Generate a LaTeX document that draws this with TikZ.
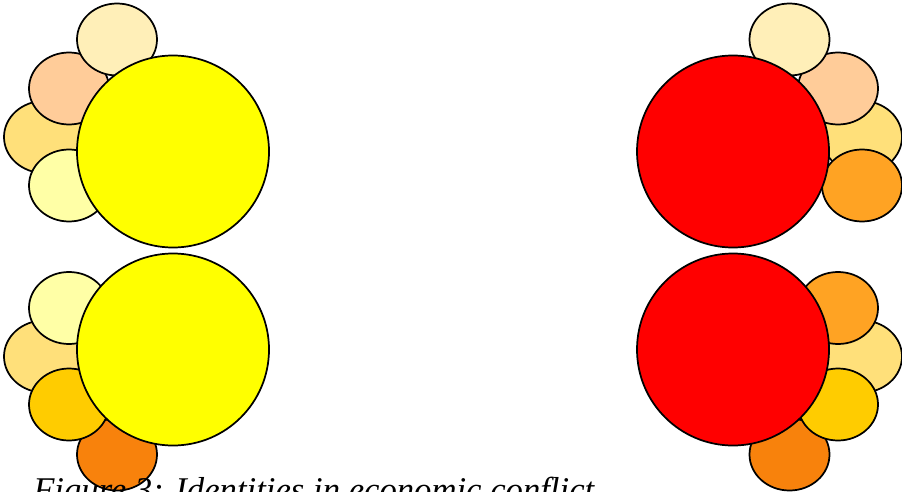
\documentclass[tikz,border=0pt]{standalone}
\usepackage{fontspec}
\setmainfont{Liberation Serif}
\usepackage{tikz}
\usetikzlibrary{shapes.geometric, positioning}
\usepackage{xcolor}

\definecolor{cream}{HTML}{FFEFB8}
\definecolor{peach}{HTML}{FFCC99}
\definecolor{lightorange}{HTML}{FFE07A}
\definecolor{paleyellow}{HTML}{FFFFA6}
\definecolor{goldyellow}{HTML}{FFCC00}
\definecolor{darkorange}{HTML}{F8820C}
\definecolor{midorange}{HTML}{FFA323}
\definecolor{sunyellow}{RGB}{255,255,0}
\definecolor{firered}{RGB}{255,0,0}

\begin{document}
\begin{tikzpicture}[
    x=0.75pt, y=-0.75pt,
    big/.style={circle, draw, line width=1.3pt, minimum size=144pt, inner sep=0pt},
    petal/.style={ellipse, draw, line width=1.3pt, minimum width=60pt, minimum height=54pt, inner sep=0pt}
]
\clip (0,0) rectangle (902,492);

% top left
\node[petal, fill=lightorange] (tl3) at (44,137) {};
\node[petal, fill=paleyellow] (tl4) at (69,185.5) {};
\node[petal, fill=peach] (tl2) at (69,88.5) {};
\node[petal, fill=cream] (tl1) at (117,39.5) {};
\node[big, fill=sunyellow] (tl) at (173,151.5) {};

% bottom left
\node[petal, fill=lightorange] (bl2) at (44,356.5) {};
\node[petal, fill=darkorange] (bl4) at (117,454.5) {};
\node[petal, fill=goldyellow] (bl3) at (69,404.5) {};
\node[petal, fill=paleyellow] (bl1) at (69,308) {};
\node[big, fill=sunyellow] (bl) at (173,349.5) {};

% top right
\node[petal, fill=lightorange] (tr3) at (862,137) {};
\node[petal, fill=midorange] (tr4) at (862,185.5) {};
\node[petal, fill=peach] (tr2) at (838,88.5) {};
\node[petal, fill=cream] (tr1) at (789.5,39.5) {};
\node[big, fill=firered] (tr) at (733,151.5) {};

% bottom right
\node[petal, fill=lightorange] (br2) at (862,356.5) {};
\node[petal, fill=darkorange] (br4) at (789.5,454.5) {};
\node[petal, fill=goldyellow] (br3) at (838,404.5) {};
\node[petal, fill=midorange] (br1) at (838,308) {};
\node[big, fill=firered] (br) at (733,349.5) {};

\node[anchor=base west, inner sep=0pt, font=\fontsize{26}{30}\selectfont\itshape] (caption) at (33,501) {Figure 3: Identities in economic conflict};

\end{tikzpicture}
\end{document}
